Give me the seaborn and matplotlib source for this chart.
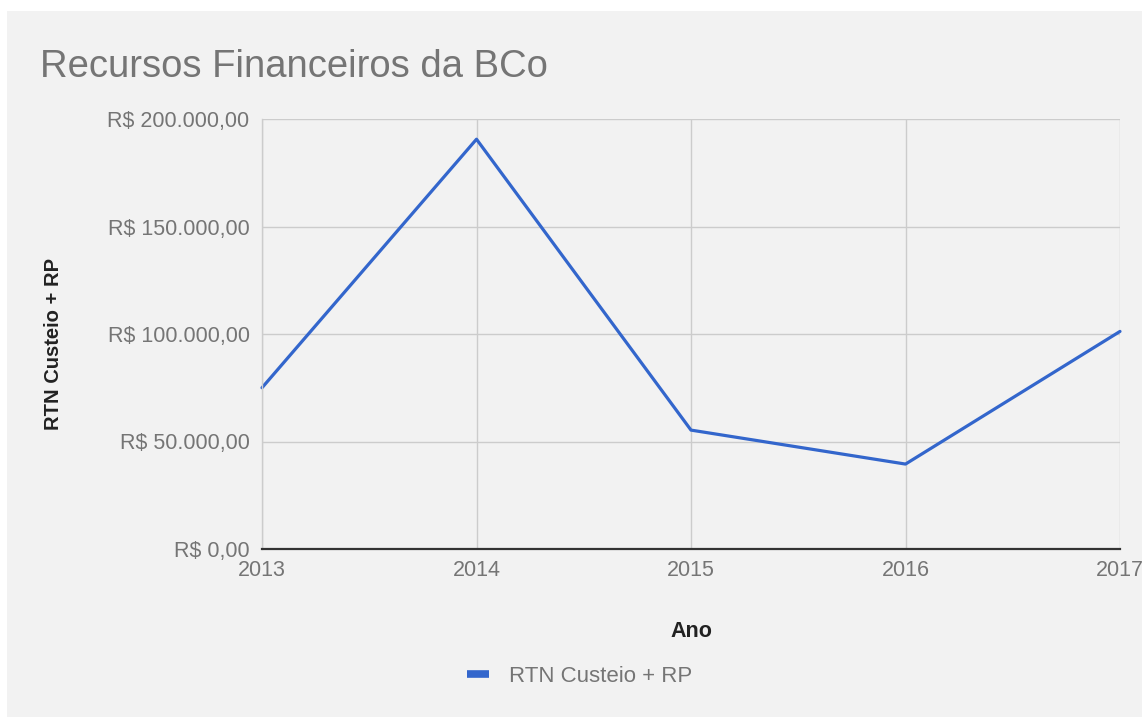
import pandas as pd
import matplotlib
matplotlib.use("Agg")
import matplotlib.pyplot as plt
import seaborn as sns
from matplotlib.patches import Rectangle
from matplotlib.ticker import FuncFormatter, MultipleLocator

## Données

anos = [2013, 2014, 2015, 2016, 2017]
recursos = [75000, 190600, 55300, 39500, 101200]
serie = "RTN Custeio + RP"

data = pd.DataFrame({"Ano": anos, serie: recursos})


def formato_real(v, pos=None):
    '''Formatação monetária brasileira : R$ 200.000,00'''
    s = f"{v:,.2f}".replace(",", "X").replace(".", ",").replace("X", ".")
    return f"R$ {s}"


## Estilo

fundo = "#f2f2f2"
sns.set_style("whitegrid", {"axes.facecolor": fundo, "grid.color": "#cccccc"})
plt.rcParams["font.family"] = ["Liberation Sans", "DejaVu Sans"]

fig = plt.figure(figsize=(11.42, 7.17), dpi=100)
fig.patch.set_facecolor("white")
# painel cinza com uma pequena margem branca em cima e à esquerda
fig.patches.append(Rectangle((7 / 1142, 0), 1, 1 - 11 / 717, transform=fig.transFigure,
                             facecolor=fundo, edgecolor="none", zorder=-10))

ax = fig.add_axes([262 / 1142, 1 - 549 / 717, (1120 - 262) / 1142, (549 - 119) / 717])

sns.lineplot(data=data, x="Ano", y=serie, ax=ax, color="#3366cc", linewidth=2.3,
             label=serie, clip_on=False)

ax.set_xlim(2013, 2017)
ax.set_ylim(0, 200000)
ax.xaxis.set_major_locator(MultipleLocator(1))
ax.xaxis.set_major_formatter(FuncFormatter(lambda v, p: f"{int(v)}"))
ax.yaxis.set_major_locator(MultipleLocator(50000))
ax.yaxis.set_major_formatter(FuncFormatter(formato_real))
ax.grid(True, color="#cccccc", linewidth=1)

for s in ["top", "right"]:
    ax.spines[s].set_visible(False)
ax.spines["left"].set_color("#cccccc")
ax.spines["left"].set_linewidth(1)
ax.spines["bottom"].set_color("#333333")
ax.spines["bottom"].set_linewidth(1.6)
ax.spines["bottom"].set_zorder(5)

ax.tick_params(axis="both", length=0, labelsize=15.5, labelcolor="#757575")
ax.tick_params(axis="y", pad=9)
ax.tick_params(axis="x", pad=8)

ax.set_xlabel("Ano", fontsize=15.5, fontweight="bold", color="#222222")
ax.set_ylabel(serie, fontsize=14.5, fontweight="bold", color="#222222")
ax.xaxis.set_label_coords(0.5, -(621 - 549) / 430)
ax.yaxis.set_label_coords((63 - 262) / 858, (549 - 344) / 430)

fig.text(40 / 1142, 1 - 67 / 717, "Recursos Financeiros da BCo", fontsize=27.5,
         color="#757575", ha="left", va="center")

leg = ax.legend(loc="center left", bbox_to_anchor=(467 / 1142, 1 - 676 / 717),
                bbox_transform=fig.transFigure, frameon=False, borderpad=0,
                borderaxespad=0, handlelength=1.0, handletextpad=0.9,
                fontsize=16)
for t in leg.get_texts():
    t.set_color("#757575")
for h in leg.get_lines():
    h.set_linewidth(5.5)
    h.set_solid_capstyle("butt")

fig.savefig("out.png", dpi=100, facecolor=fig.get_facecolor())
